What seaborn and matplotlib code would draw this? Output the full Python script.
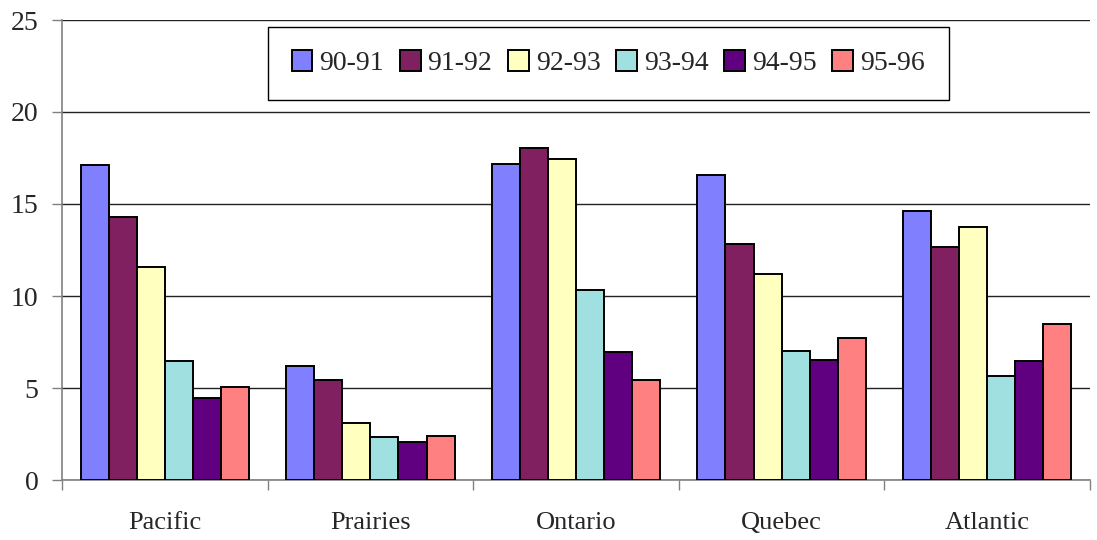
import matplotlib
matplotlib.use("Agg")
import matplotlib.pyplot as plt
import seaborn as sns
import pandas as pd
from matplotlib.ticker import FixedLocator

regions = ["Pacific", "Prairies", "Ontario", "Quebec", "Atlantic"]
years = ["90-91", "91-92", "92-93", "93-94", "94-95", "95-96"]
v_90_91 = [17.1, 6.2, 17.2, 16.6, 14.6]
v_91_92 = [14.3, 5.45, 18.05, 12.8, 12.65]
v_92_93 = [11.6, 3.1, 17.45, 11.2, 13.75]
v_93_94 = [6.45, 2.35, 10.3, 7.0, 5.65]
v_94_95 = [4.45, 2.05, 6.95, 6.5, 6.45]
v_95_96 = [5.05, 2.4, 5.45, 7.7, 8.5]
colors = ["#8080FF", "#802060", "#FFFFC0", "#A0E0E0", "#600080", "#FF8080"]

series = [v_90_91, v_91_92, v_92_93, v_93_94, v_94_95, v_95_96]
rows = []
for y, vals in zip(years, series):
    for r, v in zip(regions, vals):
        rows.append({"Region": r, "Year": y, "Value": v})
df = pd.DataFrame(rows)

sns.set_theme(style="white")
plt.rcParams["font.family"] = ["Liberation Serif", "DejaVu Serif"]

fig = plt.figure(figsize=(10.97, 5.4), dpi=100)
ax = fig.add_axes([62/1097, 60/540, 1028/1097, 460/540])

sns.barplot(data=df, x="Region", y="Value", hue="Year", order=regions,
            hue_order=years, palette=colors, width=0.82, edgecolor="black",
            linewidth=1.4, saturation=1, ax=ax, errorbar=None, zorder=3)

ax.set_ylim(0, 25)
ax.set_xlim(-0.5, 4.5)
ax.set_yticks([0, 5, 10, 15, 20, 25])
ax.yaxis.grid(True, color="#222222", linewidth=1.0, zorder=0)
ax.set_axisbelow(True)
ax.set_xlabel("")
ax.set_ylabel("")

for s in ["top", "right"]:
    ax.spines[s].set_visible(False)
for s in ["left", "bottom"]:
    ax.spines[s].set_color("#808080")
    ax.spines[s].set_linewidth(1.2)

ax.tick_params(axis="y", which="major", direction="out", length=7,
               width=1, color="#808080", pad=10, labelsize=20, left=True)
ax.tick_params(axis="x", which="major", length=0, pad=23, labelsize=19)
ax.xaxis.set_minor_locator(FixedLocator([-0.5, 0.5, 1.5, 2.5, 3.5, 4.5]))
ax.tick_params(axis="x", which="minor", direction="out", length=7,
               width=1, color="#808080", bottom=True)

handles, labels = ax.get_legend_handles_labels()
leg = ax.legend(handles, labels, ncol=6, loc="center",
                bbox_to_anchor=(0.2004, 0.830, 0.662, 0.1526), mode="expand",
                frameon=True, fancybox=False, fontsize=20, handlelength=0.75,
                handleheight=0.75, handletextpad=0.25, columnspacing=0.6,
                borderpad=0.85, borderaxespad=0)
leg.get_frame().set_edgecolor("black")
leg.get_frame().set_linewidth(1.0)
leg.get_frame().set_alpha(1)

fig.savefig("out.png", dpi=100)
